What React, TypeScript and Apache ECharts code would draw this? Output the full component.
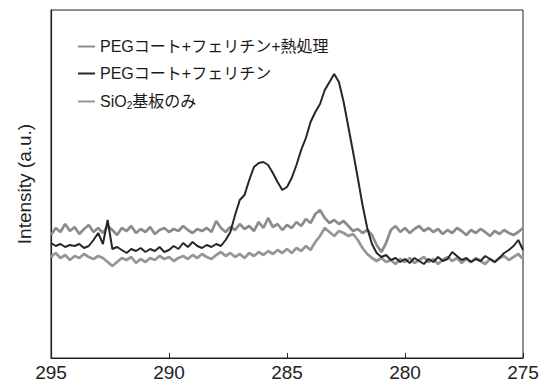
import React, { useEffect, useRef } from "react";
import * as echarts from "echarts";

// Binding energy grid (eV): 295 → 275, 0.2 eV step, 101 points
const E_START = 295;
const E_STEP = 0.2;

const xTicks = [295, 290, 285, 280, 275];

const seriesNames = [
  "PEGコート+フェリチン+熱処理",
  "PEGコート+フェリチン",
  "SiO2基板のみ",
];

// PEG coat + ferritin + heat treatment (upper gray)
const heatTreated = [
  123, 130, 126, 134, 127, 131, 124, 129, 133, 126, 130, 125, 132, 128, 123, 130,
  127, 132, 125, 129, 126, 131, 124, 128, 130, 126, 129, 127, 132, 128, 125, 129,
  127, 130, 126, 137, 130, 126, 131, 128, 134, 129, 132, 127, 136, 130, 140, 131,
  134, 128, 133, 130, 136, 132, 139, 135, 144, 148, 140, 135, 138, 134, 137, 132,
  127, 129, 125, 128, 123, 113, 106, 115, 128, 132, 126, 130, 125, 129, 132, 127,
  130, 126, 129, 124, 128, 125, 130, 127, 123, 128, 125, 129, 126, 122, 127, 124,
  128, 125, 123, 126, 130,
];

// PEG coat + ferritin (black)
const pegFerritin = [
  115, 112, 114, 111, 113, 112, 114, 110, 112, 118, 125, 114, 138, 109, 111, 108,
  105, 109, 107, 110, 106, 109, 107, 111, 106, 108, 112, 109, 115, 111, 116, 112,
  110, 113, 111, 114, 112, 118, 126, 143, 158, 163, 178, 191, 195, 196, 193, 185,
  176, 168, 171, 180, 193, 208, 220, 236, 246, 254, 268, 276, 284, 276, 256, 231,
  206, 180, 153, 130, 114, 105, 101, 103, 98, 100, 96, 99, 95, 100, 97, 94,
  99, 96, 101, 97, 99, 106, 102, 98, 100, 96, 99, 97, 102, 99, 96, 100,
  105, 108, 112, 118, 108,
];

// SiO2 substrate only (lower gray)
const substrate = [
  101, 105, 100, 103, 98, 102, 100, 104, 101, 99, 102, 100, 96, 92, 96, 100,
  98, 101, 95, 99, 96, 100, 98, 102, 99, 101, 97, 100, 102, 99, 103, 100,
  104, 101, 99, 103, 106, 102, 105, 101, 104, 100, 105, 102, 106, 103, 107, 104,
  108, 105, 109, 105, 110, 107, 112, 108, 116, 122, 130, 126, 122, 127, 125, 122,
  124, 118, 110, 104, 100, 97, 100, 96, 98, 94, 99, 96, 100, 95, 98, 101,
  96, 99, 94, 98, 101, 97, 100, 95, 99, 96, 100, 97, 94, 99, 96, 100,
  102, 98, 101, 104, 99,
];

const toPairs = (vals: number[]) =>
  vals.map((v, i) => [+(E_START - i * E_STEP).toFixed(1), v]);

export default function App() {
  const ref = useRef<HTMLDivElement>(null);

  useEffect(() => {
    if (!ref.current) return;
    const chart = echarts.init(ref.current, undefined, { renderer: "svg" });
    const latin = "'Liberation Sans', Arial, 'Noto Sans CJK JP', sans-serif";
    chart.setOption({
      animation: false,
      backgroundColor: "#ffffff",
      grid: {
        left: 51,
        right: 35,
        top: 10,
        bottom: 27,
        show: true,
        borderColor: "#222",
        borderWidth: 1,
      },
      legend: {
        orient: "vertical",
        left: 73,
        top: 33,
        data: seriesNames,
        icon: "rect",
        itemWidth: 17,
        itemHeight: 2,
        itemGap: 10,
        textStyle: {
          fontFamily: latin,
          fontSize: 16,
          color: "#1a1a1a",
          lineHeight: 17,
          rich: {
            sub: { fontSize: 10, verticalAlign: "bottom", lineHeight: 12, padding: [8, 0, 0, 0], fontFamily: latin, color: "#1a1a1a" },
            n: { fontSize: 16, fontFamily: latin, color: "#1a1a1a" },
          },
        },
        formatter: (name: string) =>
          name === "SiO2基板のみ" ? "{n|SiO}{sub|2}{n|基板のみ}" : name,
      },
      xAxis: {
        type: "value",
        inverse: true,
        min: 275,
        max: 295,
        interval: 5,
        axisLine: { show: true, lineStyle: { color: "#222", width: 1.2 } },
        axisTick: { show: true, inside: true, length: 5, lineStyle: { color: "#222" } },
        axisLabel: {
          fontFamily: latin,
          fontSize: 19,
          color: "#222",
          margin: 5,
          customValues: xTicks,
        },
        splitLine: { show: false },
      },
      yAxis: {
        type: "value",
        min: 0,
        max: 348,
        name: "Intensity (a.u.)",
        nameLocation: "middle",
        nameGap: 17,
        nameTextStyle: { fontFamily: latin, fontSize: 19, color: "#222" },
        axisLine: { show: true, lineStyle: { color: "#222", width: 1.2 } },
        axisTick: { show: false },
        axisLabel: { show: false },
        splitLine: { show: false },
      },
      series: [
        {
          name: seriesNames[0],
          type: "line",
          data: toPairs(heatTreated),
          symbol: "none",
          color: "#8c8c8c",
          lineStyle: { width: 2.7, color: "#8c8c8c" },
          z: 2,
        },
        {
          name: seriesNames[2],
          type: "line",
          data: toPairs(substrate),
          symbol: "none",
          color: "#969696",
          lineStyle: { width: 2.7, color: "#969696" },
          z: 2,
        },
        {
          name: seriesNames[1],
          type: "line",
          data: toPairs(pegFerritin),
          symbol: "none",
          color: "#262626",
          lineStyle: { width: 2, color: "#262626" },
          z: 3,
        },
      ],
    });
    return () => chart.dispose();
  }, []);

  return (
    <div
      ref={ref}
      style={{ position: "fixed", left: 0, top: 0, width: 558, height: 385, background: "#fff" }}
    />
  );
}
